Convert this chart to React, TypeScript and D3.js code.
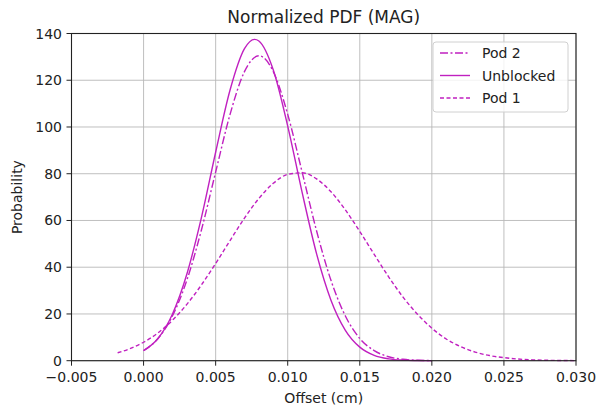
import React from "react";
import * as d3 from "d3";

const W = 596;
const H = 408;

const xTicks = [-0.005, 0, 0.005, 0.01, 0.015, 0.02, 0.025, 0.03];
const yTicks = [0, 20, 40, 60, 80, 100, 120, 140];

// Unblocked (solid)
const unblockedX = [0, 0.001, 0.002, 0.003, 0.004, 0.005, 0.006, 0.007, 0.0077, 0.008, 0.009, 0.01, 0.011, 0.012, 0.013, 0.014, 0.015, 0.016, 0.017, 0.018, 0.019, 0.02];
const unblockedY = [4.3, 9.5, 19.9, 37.0, 60.9, 89.2, 115.8, 133.5, 137.5, 136.8, 124.4, 100.4, 72.0, 45.8, 25.9, 13.0, 5.8, 2.3, 0.8, 0.25, 0.07, 0.0];

// Pod 2 (dash-dot)
const pod2X = [0, 0.001, 0.002, 0.003, 0.004, 0.005, 0.006, 0.007, 0.008, 0.009, 0.01, 0.011, 0.012, 0.013, 0.014, 0.015, 0.016, 0.017, 0.018, 0.019, 0.02];
const pod2Y = [4.3, 9.5, 19.1, 34.4, 55.6, 80.7, 105.4, 123.7, 130.5, 123.7, 105.4, 80.7, 55.6, 34.4, 19.1, 9.5, 4.3, 1.7, 0.6, 0.2, 0.05];

// Pod 1 (dashed)
const pod1X = [-0.0018, -0.001, 0, 0.001, 0.002, 0.003, 0.004, 0.005, 0.006, 0.007, 0.008, 0.009, 0.01, 0.011, 0.012, 0.013, 0.014, 0.015, 0.016, 0.017, 0.018, 0.019, 0.02, 0.021, 0.022, 0.023, 0.024, 0.025, 0.026, 0.027, 0.028, 0.029, 0.03];
const pod1Y = [3.4, 5.0, 7.9, 11.9, 17.3, 24.1, 32.3, 41.6, 51.4, 61.0, 69.4, 75.9, 79.7, 80.4, 77.8, 72.3, 64.5, 55.3, 45.5, 35.9, 27.2, 19.9, 13.9, 9.3, 6.0, 3.7, 2.2, 1.3, 0.7, 0.37, 0.18, 0.09, 0.04];

const seriesNames = ["Pod 2", "Unblocked", "Pod 1"];

const COLOR = "#c020c0";
const FONT = "DejaVu Sans, sans-serif";

export default function App() {
  const left = 71.5, right = 576, top = 33.5, bottom = 360.7;
  const x = d3.scaleLinear().domain([-0.005, 0.03]).range([left, right]);
  const y = d3.scaleLinear().domain([0, 140]).range([bottom, top]);
  const line = d3
    .line<[number, number]>()
    .x((d) => x(d[0]))
    .y((d) => y(d[1]))
    .curve(d3.curveMonotoneX);

  const zip = (a: number[], b: number[]) => a.map((v, i) => [v, b[i]] as [number, number]);
  const fmt = (v: number) => d3.format(".3f")(v);

  const series = [
    { name: seriesNames[0], data: zip(pod2X, pod2Y), dash: "8,2.5,2,2.5" },
    { name: seriesNames[1], data: zip(unblockedX, unblockedY), dash: undefined },
    { name: seriesNames[2], data: zip(pod1X, pod1Y), dash: "4,2.5" },
  ];

  const legX = 433, legY = 42, legW = 135, legH = 70;

  return (
    <svg width={W} height={H} style={{ position: "absolute", left: 0, top: 0, background: "#fff" }} fontFamily={FONT}>
      <rect x={0} y={0} width={W} height={H} fill="#fff" />
      {/* grid */}
      {xTicks.map((t) => (
        <line key={"gx" + t} x1={x(t)} x2={x(t)} y1={top} y2={bottom} stroke="#b8b8b8" strokeWidth={0.9} />
      ))}
      {yTicks.map((t) => (
        <line key={"gy" + t} x1={left} x2={right} y1={y(t)} y2={y(t)} stroke="#b8b8b8" strokeWidth={0.9} />
      ))}
      {/* lines */}
      {series.map((s) => (
        <path key={s.name} d={line(s.data) || ""} fill="none" stroke={COLOR} strokeWidth={1.4} strokeDasharray={s.dash} />
      ))}
      {/* frame */}
      <rect x={left} y={top} width={right - left} height={bottom - top} fill="none" stroke="#222" strokeWidth={1.1} />
      {/* ticks */}
      {xTicks.map((t) => (
        <g key={"tx" + t}>
          <line x1={x(t)} x2={x(t)} y1={bottom} y2={bottom + 5} stroke="#222" strokeWidth={1} />
          <text x={x(t)} y={382} textAnchor="middle" fontSize={14} fill="#222">
            {t < 0 ? "\u2212" + fmt(-t) : fmt(t)}
          </text>
        </g>
      ))}
      {yTicks.map((t) => (
        <g key={"ty" + t}>
          <line x1={left - 5} x2={left} y1={y(t)} y2={y(t)} stroke="#222" strokeWidth={1} />
          <text x={62} y={y(t) + 5} textAnchor="end" fontSize={14} fill="#222">
            {t}
          </text>
        </g>
      ))}
      {/* title & labels */}
      <text x={(left + right) / 2} y={22.5} textAnchor="middle" fontSize={17} fill="#222">
        Normalized PDF (MAG)
      </text>
      <text x={(left + right) / 2} y={403} textAnchor="middle" fontSize={14} fill="#222">
        Offset (cm)
      </text>
      <text transform={`translate(22,${(top + bottom) / 2}) rotate(-90)`} textAnchor="middle" fontSize={14} fill="#222">
        Probability
      </text>
      {/* legend */}
      <rect x={legX} y={legY} width={legW} height={legH} rx={3} fill="#fff" fillOpacity={0.8} stroke="#d0d0d0" strokeWidth={1} />
      {series.map((s, i) => {
        const ry = 53 + i * 22.5;
        return (
          <g key={"leg" + s.name}>
            <line x1={440} x2={470} y1={ry} y2={ry} stroke={COLOR} strokeWidth={1.4} strokeDasharray={s.dash} />
            <text x={482} y={ry + 5} fontSize={14} fill="#222">
              {s.name}
            </text>
          </g>
        );
      })}
    </svg>
  );
}
